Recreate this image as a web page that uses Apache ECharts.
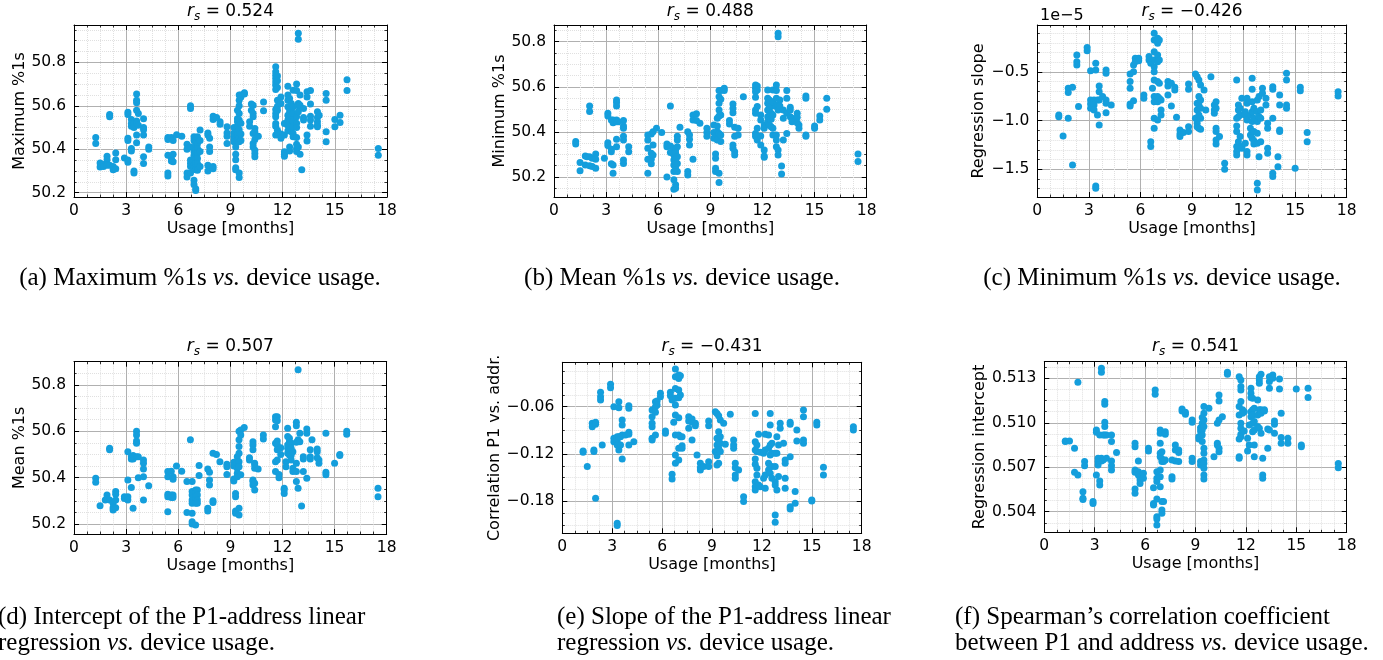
<!DOCTYPE html>
<html><head><meta charset="utf-8">
<script src="https://cdn.jsdelivr.net/npm/echarts@6/dist/echarts.min.js"></script>
<style>html,body{margin:0;padding:0;background:#fff}#c{width:1383px;height:660px}</style>
</head><body><div id="c"></div><script>
// ---------------- DATA (usage in months, value groups) ----------------
const usageTicks = [0, 3, 6, 9, 12, 15, 18];

// (a) Maximum %1s
const maxPct = [
[1.25,[50.454,50.426]],[1.5,[50.337,50.318]],[1.7,[50.33,50.32]],[1.9,[50.368,50.352,50.326]],
[2.05,[50.56,50.55,50.326]],[2.25,[50.32,50.306]],[2.4,[50.383,50.352,50.31]],[2.9,[50.36]],
[3.1,[50.57,50.56,50.45,50.44,50.35,50.34]],[3.3,[50.537,50.518,50.506,50.403,50.392]],
[3.45,[50.52,50.50,50.30,50.29]],[3.6,[50.654,50.626,50.614,50.58,50.53,50.52,50.465,50.43]],
[3.7,[50.565,50.51]],[4.0,[50.54,50.50,50.49,50.465,50.365,50.334]],[4.3,[50.41,50.40]],
[5.4,[50.454,50.445,50.372,50.29,50.277]],[5.6,[50.454,50.357,50.346]],[5.7,[50.44,50.377,50.342]],
[5.9,[50.467]],[6.2,[50.46]],[6.5,[50.423,50.40,50.29,50.272]],
[6.7,[50.60,50.588,50.41,50.35,50.335,50.32,50.29]],
[6.9,[50.457,50.44,50.39,50.372,50.326,50.31,50.257,50.238]],
[7.0,[50.44,50.425,50.41,50.395,50.38,50.365,50.35,50.335,50.32,50.305,50.218,50.21]],
[7.1,[50.457,50.425,50.403,50.38,50.357,50.334,50.303]],[7.25,[50.488,50.44,50.39,50.32]],
[7.7,[50.475,50.465,50.326,50.30]],[7.8,[50.45,50.41,50.39]],[8.0,[50.552,50.537,50.32,50.31]],
[8.2,[50.546]],[8.4,[50.526,50.515]],[8.8,[50.503,50.475,50.46,50.426]],
[9.2,[50.50,50.475,50.457,50.445,50.434]],[9.3,[50.41,50.377,50.352,50.315,50.306]],
[9.4,[50.58,50.54,50.526,50.503,50.48,50.465,50.44]],
[9.5,[50.65,50.626,50.60,50.565,50.534,50.49,50.454,50.434,50.29,50.27]],
[9.6,[50.65,50.64,50.52,50.47,50.44]],[9.8,[50.66,50.654]],[10.1,[50.526,50.506]],[10.2,[50.608,50.58]],
[10.3,[50.603,50.565,50.55,50.472,50.426,50.41]],[10.4,[50.495,50.48,50.445,50.395,50.38,50.365]],
[10.6,[50.46]],[10.9,[50.618,50.577]],
[11.6,[50.78,50.757,50.741,50.726,50.71,50.695,50.675,50.583,50.565,50.55,50.518,50.506,50.466]],
[11.7,[50.737,50.715,50.684,50.626,50.598,50.58,50.487,50.472]],[11.9,[50.64,50.61,50.47,50.45]],
[12.1,[50.518,50.465,50.388,50.377,50.368]],[12.3,[50.69,50.65,50.626,50.595,50.557,50.534,50.51,50.485]],
[12.4,[50.634,50.588,50.572,50.55,50.526,50.503,50.41,50.392]],[12.5,[50.61,50.58,50.557,50.534,50.506,50.48]],
[12.6,[50.672,50.595,50.565,50.526,50.503,50.472,50.457]],
[12.8,[50.70,50.67,50.55,50.52,50.50,50.454,50.423,50.403,50.39]],
[12.9,[50.934,50.906,50.61,50.60,50.572,50.41]],[13.0,[50.65,50.603,50.377]],[13.1,[50.306]],
[13.2,[50.588,50.546,50.534]],[13.4,[50.665,50.64,50.465,50.438]],[13.6,[50.67,50.608,50.552,50.534,50.506]],
[14.0,[50.572,50.546,50.526,50.51,50.503]],[14.1,[50.557]],[14.5,[50.657,50.626,50.48,50.434]],
[15.0,[50.537,50.503]],[15.3,[50.557,50.523]],[15.7,[50.72,50.67]],[17.5,[50.403,50.372]]
];

// (b) Minimum %1s
const minPct = [
[1.25,[50.357,50.346]],[1.5,[50.264,50.227]],[1.8,[50.293,50.253]],[1.9,[50.29]],
[2.05,[50.515,50.49,50.29,50.25]],[2.2,[50.283,50.246]],[2.4,[50.302,50.278,50.238]],[2.9,[50.283]],
[3.1,[50.482,50.47,50.352,50.34]],[3.3,[50.453,50.323,50.312,50.258]],[3.4,[50.453,50.44,50.253,50.216]],
[3.6,[50.541,50.53,50.515,50.453,50.445,50.367,50.334]],[3.7,[50.445]],
[4.0,[50.45,50.426,50.416,50.38,50.364,50.275,50.26]],[4.3,[50.334,50.312]],
[5.4,[50.386,50.364,50.327,50.278,50.216]],[5.6,[50.39,50.305,50.278,50.258]],[5.7,[50.40,50.342,50.297]],
[5.9,[50.416]],[6.2,[50.397]],[6.5,[50.346,50.334,50.20]],[6.7,[50.515,50.337,50.308]],
[6.9,[50.327,50.297,50.275,50.253,50.224,50.187,50.145]],
[7.0,[50.32,50.305,50.29,50.275,50.26,50.246,50.231,50.165,50.15]],
[7.1,[50.38,50.364,50.334,50.29,50.26,50.224]],[7.25,[50.42]],[7.7,[50.40,50.224,50.209]],
[7.8,[50.386,50.367,50.342]],[8.0,[50.475,50.453,50.278]],[8.2,[50.48,50.45]],[8.4,[50.438]],
[8.8,[50.416,50.397,50.38]],[9.2,[50.43,50.397,50.372]],[9.3,[50.302,50.283,50.238,50.224]],
[9.4,[50.46,50.426,50.40,50.386,50.364]],[9.5,[50.583,50.556,50.527,50.497,50.47,50.393,50.216,50.175]],
[9.6,[50.583,50.545,50.475,50.386,50.357]],[9.8,[50.593,50.583]],[10.1,[50.45,50.435]],
[10.3,[50.524,50.504,50.485,50.342,50.327]],[10.4,[50.42,50.38,50.312,50.297]],[10.6,[50.416,50.386]],
[10.9,[50.556]],[11.6,[50.608,50.593,50.578,50.553,50.497,50.482,50.393,50.38]],
[11.7,[50.603,50.586,50.512,50.416,50.364]],[11.9,[50.475,50.453,50.382,50.342]],
[12.1,[50.43,50.416,50.32,50.293,50.287]],[12.3,[50.586,50.549,50.527,50.497,50.467,50.445]],
[12.4,[50.541,50.512,50.49,50.46,50.43]],[12.5,[50.512,50.482,50.456,50.423]],
[12.6,[50.586,50.534,50.475,50.416,50.386]],[12.8,[50.608,50.583,50.549,50.512,50.386,50.364,50.334]],
[12.9,[50.837,50.822,50.52,50.497,50.32,50.297]],[13.0,[50.541,50.515]],[13.1,[50.249,50.213]],
[13.2,[50.497,50.46,50.364]],[13.4,[50.583,50.549,50.482,50.393]],[13.6,[50.509,50.497,50.467]],
[13.7,[50.46,50.445]],[14.0,[50.482,50.465,50.44]],[14.1,[50.43,50.416]],[14.5,[50.559,50.549,50.386,50.38]],
[15.0,[50.426,50.416]],[15.3,[50.47,50.453]],[15.7,[50.549,50.50]],[17.5,[50.302,50.268]]
];

// (c) Regression slope, in units of 1e-5
const slopeE5 = [
[1.25,[-0.942,-0.959]],[1.5,[-1.158]],[1.8,[-0.668,-0.712,-0.976]],[2.05,[-0.658,-1.455]],
[2.3,[-0.325,-0.394,-0.428]],[2.4,[-0.856]],[2.9,[-0.247,-0.281]],[3.1,[-0.486,-0.788,-0.829,-0.873]],
[3.3,[-0.788,-0.839,-0.89]],[3.4,[-0.411,-0.479,-1.671,-1.695]],[3.5,[-0.788,-0.942]],
[3.6,[-0.644,-0.702,-0.788,-1.045]],[3.8,[-0.753]],[4.0,[-0.479,-0.514,-0.788,-0.822,-0.918]],[4.3,[-0.839]],
[5.4,[-0.52,-0.599,-0.668,-0.829,-0.85]],[5.6,[-0.428,-0.497,-0.795]],[5.7,[-0.36,-0.394]],[5.9,[-0.36,-0.384]],
[6.2,[-0.736,-0.771]],[6.5,[-0.342,-0.377]],[6.6,[-0.411,-1.216,-1.267]],[6.7,[-0.668]],
[6.8,[-0.103,-0.171,-0.291,-0.377,-0.445,-0.497,-0.582,-0.753,-0.805,-0.976,-1.079]],
[7.0,[-0.154,-0.205,-0.325,-0.394,-0.599,-0.753,-0.805,-0.993]],[7.1,[-0.171,-0.377,-0.616,-0.771]],
[7.2,[-0.788,-0.89,-0.942]],[7.6,[-0.599,-0.644,-0.736]],[7.8,[-0.616,-0.85]],[8.0,[-0.658,-0.685]],
[8.1,[-0.966]],[8.3,[-1.096,-1.137,-1.164]],[8.5,[-1.123]],[8.8,[-0.623,-0.678,-1.062,-1.113]],
[9.2,[-0.52,-0.976]],[9.3,[-0.548,-0.822,-0.89,-1.027,-1.062]],[9.4,[-0.582,-0.753,-0.839,-0.942,-1.079]],
[9.5,[-0.634,-0.788,-0.873,-0.976,-1.089]],[9.7,[-0.685]],[9.8,[-0.89]],[10.1,[-0.548]],
[10.3,[-0.839,-0.89,-0.925]],[10.4,[-0.805,-0.873,-1.079,-1.113,-1.199,-1.24]],[10.6,[-1.164]],
[10.9,[-1.438,-1.5]],[11.6,[-0.582,-0.976,-1.055,-1.113,-1.267,-1.318,-1.353]],
[11.7,[-0.839,-0.89,-0.959,-1.216]],[11.8,[-0.873,-0.942,-1.164]],[11.9,[-0.771,-1.267,-1.284]],
[12.1,[-0.908,-0.942,-1.233]],[12.2,[-0.771,-0.822,-0.993,-1.318,-1.353]],[12.4,[-0.942,-1.079,-1.147]],
[12.5,[-0.565,-0.678,-0.805,-0.908,-1.01,-1.113,-1.181]],[12.6,[-0.873,-0.976,-1.113,-1.206,-1.24]],
[12.8,[-0.788,-0.908,-1.01,-1.13,-1.233,-1.644,-1.712]],[12.9,[-0.753,-0.959,-1.37]],
[13.0,[-0.89,-0.976,-1.216]],[13.1,[-0.668,-0.719]],[13.3,[-0.771,-0.839]],
[13.4,[-1.027,-1.079,-1.284,-1.336]],[13.7,[-0.651,-0.678,-0.976,-1.541,-1.575]],[14.0,[-1.37,-1.473]],
[14.1,[-0.736,-0.839,-1.096,-1.113]],[14.5,[-0.514,-0.582,-0.839,-0.873]],[15.0,[-1.49]],
[15.3,[-0.658,-0.692]],[15.7,[-1.123,-1.216]],[17.5,[-0.702,-0.747]]
];

// (d) Mean %1s
const meanPct = [
[1.25,[50.397,50.38]],[1.5,[50.279]],[1.8,[50.304]],[1.9,[50.325,50.31]],[2.05,[50.527,50.52,50.304]],
[2.25,[50.29,50.27,50.26]],[2.4,[50.34,50.328,50.304,50.27]],[2.9,[50.318,50.31]],
[3.1,[50.512,50.39,50.318,50.304]],[3.3,[50.49,50.48,50.357]],[3.4,[50.495,50.48,50.268]],
[3.6,[50.60,50.584,50.558,50.548,50.49]],[3.7,[50.49,50.40]],[4.0,[50.476,50.462,50.437,50.404,50.304]],
[4.3,[50.365]],[5.4,[50.426,50.404,50.328,50.318,50.253]],[5.6,[50.428,50.325,50.314]],
[5.7,[50.404,50.393,50.325,50.314]],[5.9,[50.45]],[6.2,[50.428]],[6.5,[50.383,50.25]],[6.7,[50.563]],
[6.8,[50.383,50.34,50.325,50.304,50.29,50.246,50.21,50.20]],[7.0,[50.347,50.333,50.318,50.304,50.29,50.196]],
[7.1,[50.347,50.325,50.304,50.29]],[7.2,[50.452,50.409]],[7.7,[50.437,50.268,50.256]],
[7.8,[50.423,50.39,50.368]],[8.0,[50.505,50.30,50.293]],[8.2,[50.50]],[8.4,[50.469]],
[8.8,[50.458,50.447,50.414]],[9.2,[50.466,50.45,50.394,50.386]],[9.3,[50.332,50.318,50.256,50.246]],
[9.4,[50.49,50.462,50.44,50.419,50.404]],[9.5,[50.60,50.563,50.534,50.505,50.469,50.447,50.268,50.239]],
[9.6,[50.606,50.584,50.412]],[9.8,[50.616]],[10.1,[50.486,50.476]],
[10.3,[50.555,50.541,50.52,50.39,50.383,50.368]],[10.4,[50.462,50.455,50.44,50.376,50.347]],
[10.6,[50.437]],[10.9,[50.584,50.567]],[11.6,[50.663,50.649,50.62,50.548,50.469,50.426]],
[11.7,[50.663,50.645,50.558,50.541,50.52,50.476]],[11.8,[50.414,50.40]],[11.9,[50.529,50.50]],
[12.1,[50.354,50.347,50.332]],[12.2,[50.469,50.447]],[12.3,[50.613,50.577,50.541,50.527,50.505]],
[12.4,[50.57,50.555,50.52,50.498]],[12.5,[50.548,50.527,50.495,50.476]],[12.6,[50.512,50.44,50.426]],
[12.8,[50.639,50.624,50.553,50.462,50.426,50.383]],[12.9,[50.865,50.563,50.354]],[13.0,[50.591,50.555]],
[13.1,[50.278]],[13.2,[50.49,50.48,50.426]],[13.4,[50.61,50.591,50.397]],[13.6,[50.52,50.49,50.48]],
[13.7,[50.563]],[14.0,[50.524,50.512,50.486]],[14.1,[50.476,50.462]],[14.5,[50.591,50.423,50.412]],
[15.0,[50.462]],[15.3,[50.50,50.495]],[15.7,[50.60,50.587]],[17.5,[50.354,50.318]]
];

// (e) Correlation P1 vs. addr.
const corrP1 = [
[1.25,[-0.1162,-0.1179]],[1.5,[-0.136]],[1.8,[-0.0811,-0.0853]],[1.9,[-0.1149,-0.117]],
[2.0,[-0.0799,-0.0824,-0.1762]],[2.3,[-0.0418,-0.0473,-0.0515]],[2.4,[-0.1086]],[2.9,[-0.0317,-0.0359]],
[3.1,[-0.06,-0.1001,-0.1044]],[3.3,[-0.098,-0.1035,-0.1086,-0.2079,-0.2108]],[3.4,[-0.0537,-0.0613,-0.098,-0.1149]],
[3.5,[-0.098,-0.1086]],[3.6,[-0.0769,-0.0832,-0.0959,-0.1263]],[3.8,[-0.0959]],
[4.0,[-0.0587,-0.0621,-0.0925,-0.0951,-0.1086]],[4.3,[-0.1044]],
[5.4,[-0.0642,-0.0727,-0.0811,-0.0853,-0.1001,-0.1022]],[5.6,[-0.0537,-0.06,-0.0672,-0.0959]],
[5.7,[-0.0528,-0.0579]],[5.9,[-0.0431,-0.0473]],[6.2,[-0.0908,-0.0938]],[6.5,[-0.0418,-0.0461]],
[6.6,[-0.0515,-0.1458,-0.1517]],[6.7,[-0.0799]],
[6.8,[-0.0122,-0.022,-0.0368,-0.0494,-0.0579,-0.0706,-0.0959,-0.1213,-0.1318]],
[7.0,[-0.0199,-0.0241,-0.0389,-0.0486,-0.0739,-0.0959,-0.1128,-0.1276]],[7.1,[-0.0207,-0.0452,-0.098]],
[7.2,[-0.098,-0.1094,-0.1128]],[7.6,[-0.0727,-0.0782,-0.0875]],[7.8,[-0.0756,-0.0799,-0.1022]],
[8.0,[-0.0811,-0.0841]],[8.1,[-0.1213]],[8.3,[-0.1318,-0.1373,-0.1403]],[8.5,[-0.136]],
[8.8,[-0.0782,-0.0841,-0.1297,-0.136]],[9.2,[-0.0663,-0.117]],[9.3,[-0.0685,-0.1001,-0.1086,-0.1221,-0.1339]],
[9.4,[-0.0714,-0.0917,-0.1044,-0.1128,-0.1318]],[9.5,[-0.0769,-0.098,-0.1065,-0.117]],[9.7,[-0.0811]],
[9.8,[-0.1077]],[10.1,[-0.0697]],[10.3,[-0.1022,-0.1086,-0.1128]],[10.4,[-0.1318,-0.1373,-0.1466,-0.1508]],
[10.6,[-0.1403]],[10.9,[-0.1741,-0.1804]],
[11.6,[-0.0685,-0.1044,-0.1149,-0.1263,-0.1331,-0.1551,-0.1614,-0.1656]],
[11.7,[-0.1086,-0.117,-0.1382,-0.1466]],[11.8,[-0.0951,-0.1593]],[11.9,[-0.1179,-0.1614]],
[12.1,[-0.1192,-0.1508]],[12.2,[-0.0951,-0.1149,-0.1466,-0.1635]],[12.4,[-0.0959,-0.1128,-0.1318,-0.1403]],
[12.5,[-0.0685,-0.0832,-0.1086,-0.1213,-0.136,-0.1445]],[12.6,[-0.1065,-0.1192,-0.136,-0.1508]],
[12.8,[-0.1192,-0.136,-0.1551,-0.1593,-0.1973,-0.2066]],[12.9,[-0.098,-0.1192,-0.1656]],
[13.0,[-0.1086,-0.1487]],[13.1,[-0.0811,-0.0875]],[13.3,[-0.1065]],[13.4,[-0.1276,-0.1318,-0.1508,-0.1635]],
[13.7,[-0.0799,-0.0824,-0.1234,-0.1868,-0.1897]],[14.0,[-0.1677,-0.1825]],[14.1,[-0.0896,-0.1035]],
[14.5,[-0.0642,-0.0727,-0.1022,-0.1065]],[15.0,[-0.1783,-0.1796]],[15.3,[-0.0799,-0.0832]],
[15.7,[-0.1369,-0.1466]],[17.5,[-0.0853,-0.0896]]
];

// (f) Regression intercept
const interceptVals = [
[1.25,[0.50877,0.50873]],[1.5,[0.50877]],[1.8,[0.50828,0.50666]],[2.0,[0.51273,0.50648]],
[2.3,[0.50535,0.5049,0.50483]],[2.4,[0.50738,0.5071]],[2.9,[0.50468,0.50456]],[3.1,[0.50951,0.50936,0.50648]],
[3.2,[0.5076,0.50738,0.50715]],[3.3,[0.50918,0.50607,0.5058]],[3.4,[0.513675,0.513405,0.5076,0.50742]],
[3.5,[0.50918,0.50749]],[3.6,[0.51143,0.51125,0.51003,0.50974,0.50918]],[3.7,[0.50918,0.5076]],
[4.0,[0.50918,0.50873,0.50742,0.5071,0.50681]],[4.3,[0.508]],
[5.4,[0.50861,0.50839,0.50681,0.50666,0.50553,0.50524]],[5.6,[0.50742,0.5067,0.50648]],
[5.7,[0.50636,0.50614,0.50591]],[5.9,[0.50659,0.50625]],[6.2,[0.50828,0.5081]],[6.5,[0.50562,0.50456,0.50445]],
[6.6,[0.51221,0.51192]],[6.7,[0.5067,0.50625,0.50603,0.50486,0.50366,0.50351,0.5031]],
[6.9,[0.50951,0.50929,0.50861,0.50794,0.50771,0.50681,0.50636,0.50569]],
[7.0,[0.50805,0.50756,0.50738,0.50468,0.50411,0.50389]],[7.1,[0.50738,0.50468]],[7.2,[0.5094,0.50922,0.50749]],
[7.6,[0.50749,0.50636,0.5062]],[7.8,[0.5085,0.50816,0.50742]],[8.0,[0.50816,0.508,0.50738]],
[8.2,[0.51093,0.5108]],[8.4,[0.51071,0.51057]],[8.8,[0.51019,0.51003,0.5076,0.50738]],[9.2,[0.50906,0.5089]],
[9.3,[0.50967,0.50945,0.50738,0.50715]],[9.4,[0.51035,0.50996,0.50951,0.50918,0.50873]],
[9.5,[0.51109,0.51064,0.51019,0.50974,0.50828,0.50794,0.50749,0.50726,0.50693,0.50648,0.5062]],
[9.8,[0.51098]],[10.1,[0.50771]],[10.3,[0.50996,0.50861,0.5085]],[10.4,[0.51188,0.51147,0.51019,0.50828,0.50805]],
[10.6,[0.51041]],[10.9,[0.513405,0.51327]],[11.6,[0.51311,0.51109,0.51053,0.5089,0.50771,0.5076]],
[11.7,[0.51289,0.51244,0.51221,0.51143,0.50996,0.50963,0.50922,0.50906]],[11.8,[0.51087,0.51064]],
[11.9,[0.51075,0.50945]],[12.1,[0.50895,0.5081]],[12.2,[0.50985,0.5085]],
[12.3,[0.51233,0.51199,0.5117,0.51075,0.51041]],[12.4,[0.51165,0.51087,0.51053,0.50996,0.5094]],
[12.5,[0.51098,0.51008,0.50951,0.5085,0.50771]],[12.7,[0.51154,0.51053,0.50974]],
[12.8,[0.51311,0.51289,0.51266,0.51087,0.50963]],[12.9,[0.51327,0.51087,0.51064,0.50929]],
[13.0,[0.5076,0.50648,0.50625]],[13.1,[0.51087,0.5108]],[13.3,[0.50958,0.50828]],
[13.4,[0.51311,0.51278,0.51233,0.50951]],[13.6,[0.513225,0.513]],[13.7,[0.51012,0.5099,0.50929]],
[14.0,[0.51296,0.51228]],[14.1,[0.51064,0.509,0.50861]],[14.5,[0.50895,0.50861]],[15.0,[0.51228]],
[15.3,[0.5085,0.50839]],[15.7,[0.51233,0.5117]],[17.5,[0.50726,0.50697]]
];

const spearman = ['0.524', '0.488', '\u22120.426', '0.507', '\u22120.431', '0.541'];
const yNames = ['Maximum %1s', 'Minimum %1s', 'Regression slope', 'Mean %1s', 'Correlation P1 vs. addr.', 'Regression intercept'];
const xName = 'Usage [months]';
const captions = [
  [['(a) Maximum %1s ', 'vs.', ' device usage.']],
  [['(b) Mean %1s ', 'vs.', ' device usage.']],
  [['(c) Minimum %1s ', 'vs.', ' device usage.']],
  [['(d) Intercept of the P1-address linear'], ['regression ', 'vs.', ' device usage.']],
  [['(e) Slope of the P1-address linear'], ['regression ', 'vs.', ' device usage.']],
  [['(f) Spearman\u2019s correlation coefficient'], ['between P1 and address ', 'vs.', ' device usage.']]
];

// ---------------- LAYOUT / STYLE ----------------
const FONT = 'DejaVu Sans';
const SERIF = 'Liberation Serif';
const DOT = '#149edc';
const layout = [
  {vals: maxPct, lo: 50.18, hi: 50.972, dec: 1, scale: 1, minor: 4, box: [74, 25, 313, 172], gap: 46, ty: 12},
  {vals: minPct, lo: 50.111, hi: 50.874, dec: 1, scale: 1, minor: 4, box: [554, 25, 312.7, 172], gap: 46, ty: 12},
  {vals: slopeE5, lo: -1.785, hi: -0.017, dec: 1, scale: 1, minor: 5, box: [1037.3, 25, 309.4, 172], gap: 50, ty: 12},
  {vals: meanPct, lo: 50.157, hi: 50.90, dec: 1, scale: 1, minor: 4, box: [74, 361.7, 312.7, 172.3], gap: 46, ty: 347},
  {vals: corrP1, lo: -0.2206, hi: -0.0037, dec: 2, scale: 0.6, minor: 4, box: [562.3, 362.3, 299.4, 171], gap: 59, ty: 347},
  {vals: interceptVals, lo: 0.50261, hi: 0.51412, dec: 3, scale: 1, minor: 4, box: [1044.3, 361.7, 302.4, 170.6], gap: 56, ty: 347}
];
const capPos = [
  [{x: 200, y: 278, align: 'center'}],
  [{x: 682, y: 278, align: 'center'}],
  [{x: 1162, y: 278, align: 'center'}],
  [{x: -2, y: 617.5, align: 'left'}, {x: -2, y: 643, align: 'left'}],
  [{x: 557, y: 617.5, align: 'left'}, {x: 557, y: 643, align: 'left'}],
  [{x: 955, y: 617.5, align: 'left'}, {x: 955, y: 643, align: 'left'}]
];

function fmt(v, scale, dec) {
  let s = (v * scale).toFixed(dec);
  if (s.charAt(0) === '-') s = '\u2212' + s.slice(1);
  return s;
}

const axisLine = {show: true, onZero: false, lineStyle: {color: '#000', width: 1}};
const axisTick = {show: true, inside: true, length: 5, lineStyle: {color: '#000', width: 1}};
const minorTick = n => ({show: true, splitNumber: n, length: 2.5, lineStyle: {color: '#000', width: 0.8}});
const splitMajor = {show: true, lineStyle: {color: '#b0b0b0', width: 1}};
const splitMinor = {show: true, lineStyle: {color: '#e0e0e0', width: 1, type: 'dotted'}};
const labelStyle = {fontFamily: FONT, fontSize: 15.5, color: '#000'};
const nameStyle = {fontFamily: FONT, fontSize: 16, color: '#000'};

const grids = [], xAxes = [], yAxes = [], series = [], graphics = [];

layout.forEach((p, i) => {
  const [l, t, w, h] = p.box;
  grids.push({left: l, top: t, width: w, height: h, containLabel: false});

  const xBase = {type: 'value', gridIndex: i, min: usageTicks[0], max: usageTicks[usageTicks.length - 1],
    interval: usageTicks[1] - usageTicks[0], axisLine, axisTick, minorTick: minorTick(4)};
  const xb = xAxes.length;
  xAxes.push(Object.assign({}, xBase, {position: 'bottom',
    axisLabel: Object.assign({margin: 6}, labelStyle),
    splitLine: splitMajor, minorSplitLine: splitMinor,
    name: xName, nameLocation: 'middle', nameGap: 24, nameTextStyle: nameStyle}));
  xAxes.push(Object.assign({}, xBase, {position: 'top', axisLabel: {show: false},
    splitLine: {show: false}, minorSplitLine: {show: false}}));

  const yBase = {type: 'value', gridIndex: i, min: p.lo / p.scale, max: p.hi / p.scale, splitNumber: 4,
    axisLine, axisTick, minorTick: minorTick(p.minor)};
  yAxes.push(Object.assign({}, yBase, {position: 'left',
    axisLabel: Object.assign({margin: 8, showMinLabel: false, showMaxLabel: false,
      formatter: v => fmt(v, p.scale, p.dec)}, labelStyle),
    splitLine: splitMajor, minorSplitLine: splitMinor,
    name: yNames[i], nameLocation: 'middle', nameGap: p.gap, nameTextStyle: nameStyle}));
  yAxes.push(Object.assign({}, yBase, {position: 'right', axisLabel: {show: false},
    splitLine: {show: false}, minorSplitLine: {show: false}}));
  const yd = yAxes.length;
  yAxes.push({type: 'value', gridIndex: i, min: p.lo, max: p.hi, show: false});

  series.push({type: 'scatter', xAxisIndex: xb, yAxisIndex: yd, symbol: 'circle', symbolSize: 7,
    itemStyle: {color: DOT, opacity: 1}, silent: true, z: 5,
    data: p.vals.flatMap(([x, ys]) => ys.map(y => [x, y]))});

  graphics.push({type: 'text', x: l + w / 2, y: p.ty, silent: true, style: {
    text: '{r|r}{s|s}{t| = ' + spearman[i] + '}', align: 'center', verticalAlign: 'middle', fill: '#000',
    rich: {
      r: {fontFamily: FONT, fontSize: 17, fontStyle: 'italic', fill: '#000', lineHeight: 21},
      s: {fontFamily: FONT, fontSize: 12, fontStyle: 'italic', fill: '#000', verticalAlign: 'bottom', lineHeight: 14},
      t: {fontFamily: FONT, fontSize: 17, fill: '#000', lineHeight: 21}
    }}});

  captions[i].forEach((line, k) => {
    const pos = capPos[i][k];
    const txt = line.map(s => (s === 'vs.' ? '{i|' + s + '}' : '{n|' + s + '}')).join('');
    graphics.push({type: 'text', x: pos.x, y: pos.y, silent: true, style: {
      text: txt, align: pos.align, verticalAlign: 'middle', fill: '#000',
      rich: {
        n: {fontFamily: SERIF, fontSize: 25, fill: '#000'},
        i: {fontFamily: SERIF, fontSize: 25, fontStyle: 'italic', fill: '#000'}
      }}});
  });
});

graphics.push({type: 'text', x: 1040, y: 16, silent: true,
  style: {text: '1e\u22125', fontFamily: FONT, fontSize: 16, fill: '#000', align: 'left', verticalAlign: 'middle'}});

const chart = echarts.init(document.getElementById('c'), null, {renderer: 'canvas'});
chart.setOption({
  animation: false,
  backgroundColor: '#fff',
  grid: grids, xAxis: xAxes, yAxis: yAxes, series: series, graphic: graphics
});
</script></body></html>
